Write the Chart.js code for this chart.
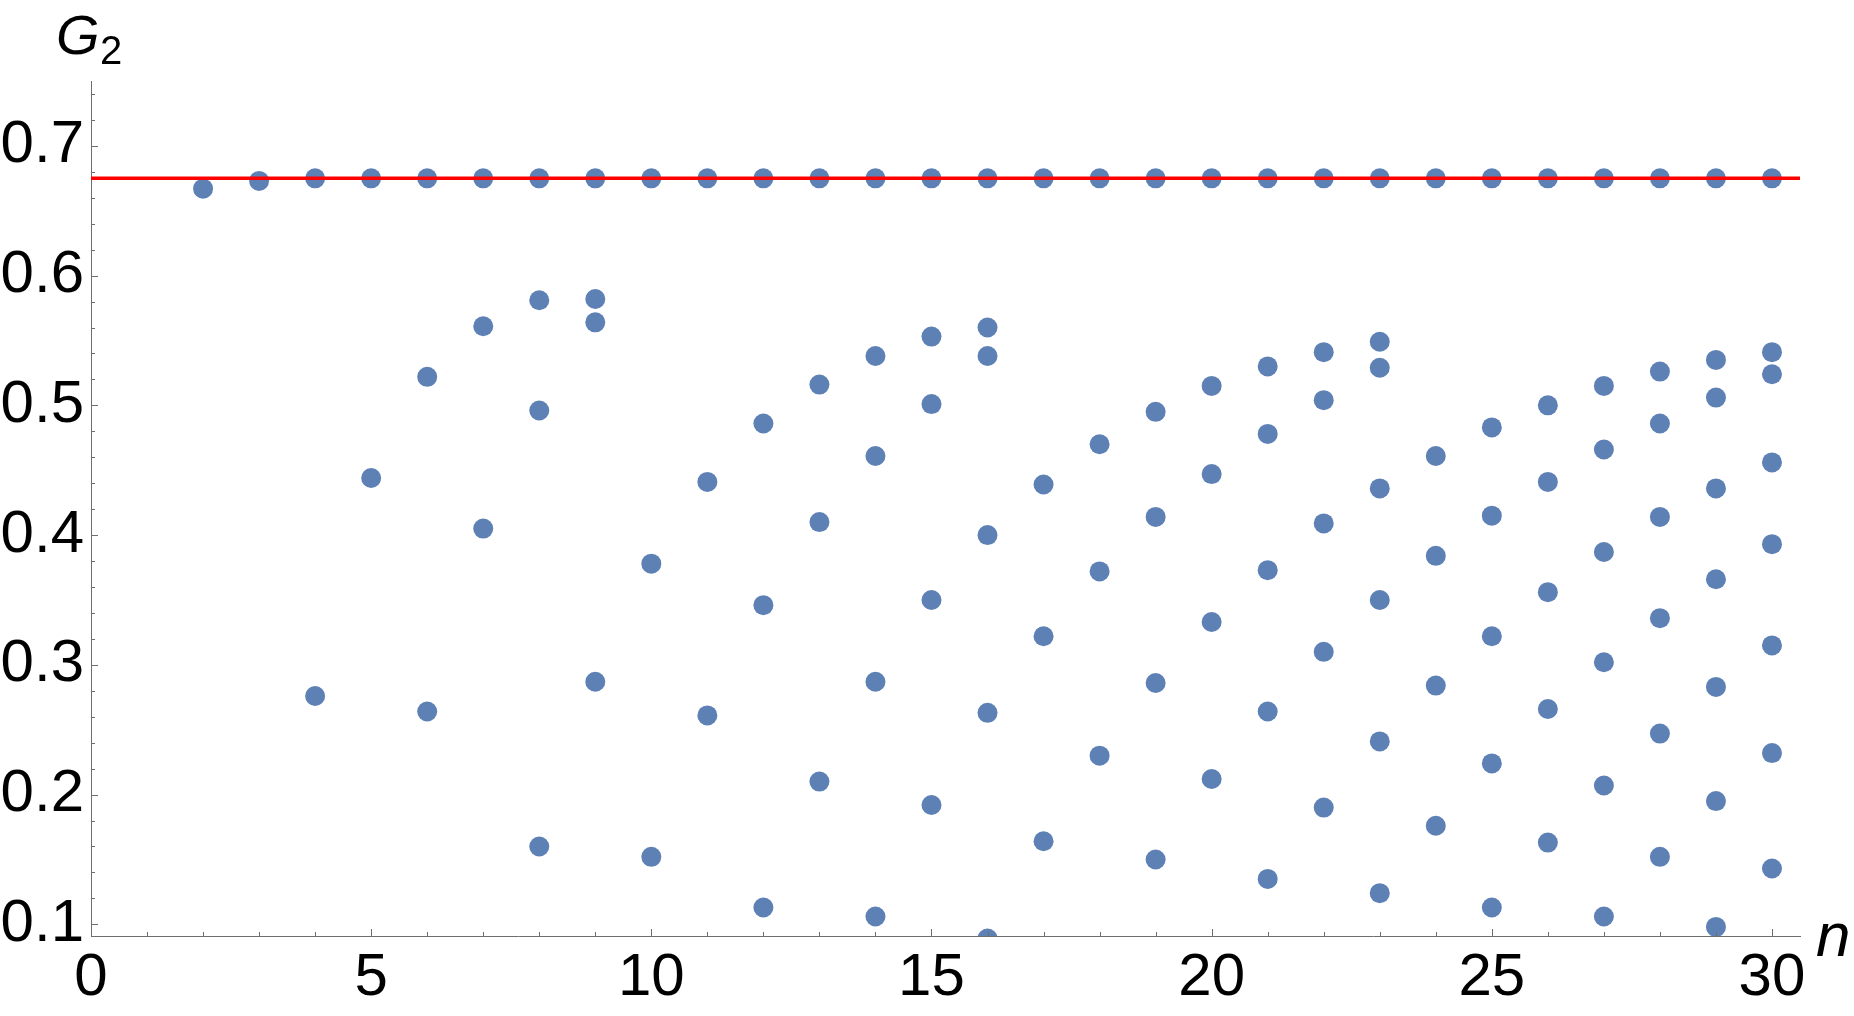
<!DOCTYPE html>
<html lang="en">
<head>
  <meta charset="UTF-8">
  <title>G2 versus n</title>
  <script src="https://cdn.jsdelivr.net/npm/chart.js@4.4.0/dist/chart.umd.min.js"></script>
  <style>
    * { box-sizing: border-box; margin: 0; padding: 0; }
    body { background: #fff; }
    .wrap { position: relative; width: 1854px; height: 1016px; }
  </style>
</head>
<body>
  <div class="wrap"><canvas id="g2Chart"></canvas></div>

  <script>
    // upper branch, sits on the limit line
    const nTop = [2, 3, 4, 5, 6, 7, 8, 9, 10, 11, 12, 13, 14, 15, 16, 17, 18, 19, 20, 21, 22, 23, 24, 25, 26, 27, 28, 29, 30];
    const g2Top = [0.667, 0.673, 0.675, 0.675, 0.675, 0.675, 0.675, 0.675, 0.675, 0.675, 0.675, 0.675, 0.675, 0.675, 0.675,
                   0.675, 0.675, 0.675, 0.675, 0.675, 0.675, 0.675, 0.675, 0.675, 0.675, 0.675, 0.675, 0.675, 0.675];

    // the scattered lower points, n and G2 side by side
    const nLower = [
      4,
      5,
      6, 6,
      7, 7,
      8, 8, 8,
      9, 9, 9,
      10, 10,
      11, 11,
      12, 12, 12,
      13, 13, 13,
      14, 14, 14, 14,
      15, 15, 15, 15,
      16, 16, 16, 16, 16,
      17, 17, 17,
      18, 18, 18,
      19, 19, 19, 19,
      20, 20, 20, 20,
      21, 21, 21, 21, 21,
      22, 22, 22, 22, 22,
      23, 23, 23, 23, 23, 23,
      24, 24, 24, 24,
      25, 25, 25, 25, 25,
      26, 26, 26, 26, 26,
      27, 27, 27, 27, 27, 27,
      28, 28, 28, 28, 28, 28,
      29, 29, 29, 29, 29, 29, 29,
      30, 30, 30, 30, 30, 30, 30
    ];
    const g2Lower = [
      0.276,
      0.444,
      0.522, 0.264,
      0.561, 0.405,
      0.581, 0.496, 0.160,
      0.582, 0.564, 0.287,
      0.378, 0.152,
      0.441, 0.261,
      0.486, 0.346, 0.113,
      0.516, 0.410, 0.210,
      0.538, 0.461, 0.287, 0.106,
      0.553, 0.501, 0.350, 0.192,
      0.560, 0.538, 0.400, 0.263, 0.089,
      0.439, 0.322, 0.164,
      0.470, 0.372, 0.230,
      0.495, 0.414, 0.286, 0.150,
      0.515, 0.447, 0.333, 0.212,
      0.530, 0.478, 0.373, 0.264, 0.135,
      0.541, 0.504, 0.409, 0.310, 0.190,
      0.549, 0.529, 0.436, 0.350, 0.241, 0.124,
      0.461, 0.384, 0.284, 0.176,
      0.483, 0.415, 0.322, 0.224, 0.113,
      0.500, 0.441, 0.356, 0.266, 0.163,
      0.515, 0.466, 0.387, 0.302, 0.207, 0.106,
      0.526, 0.486, 0.414, 0.336, 0.247, 0.152,
      0.535, 0.506, 0.436, 0.366, 0.283, 0.195, 0.098,
      0.541, 0.524, 0.456, 0.393, 0.315, 0.232, 0.143
    ];

    const limitG2 = 0.675;
    const xTicks = [0, 5, 10, 15, 20, 25, 30];
    const yTicks = [0.1, 0.2, 0.3, 0.4, 0.5, 0.6, 0.7];
    const xRange = [0, 30.5];
    const yRange = [0.091, 0.75];

    const dotColor = '#5e81b5';
    const axisColor = '#6e6e6e';
    const fontFamily = "'Liberation Sans', Arial, sans-serif";

    const points = nTop.map((n, i) => ({ x: n, y: g2Top[i] }))
      .concat(nLower.map((n, i) => ({ x: n, y: g2Lower[i] })));

    // Mathematica-style inward ticks plus the G2 and n labels
    const frameDecor = {
      id: 'frameDecor',
      afterDraw(chart) {
        const { ctx, chartArea: area, scales: { x, y } } = chart;
        ctx.save();
        ctx.strokeStyle = axisColor;
        ctx.lineWidth = 1;
        ctx.beginPath();
        for (let v = 1; v <= 30; v++) {
          const px = Math.round(x.getPixelForValue(v)) + 0.5;
          const len = v % 5 === 0 ? 7 : 4;
          ctx.moveTo(px, area.bottom);
          ctx.lineTo(px, area.bottom - len);
        }
        for (let k = 5; k <= 37; k++) {
          const v = k / 50;
          const py = Math.round(y.getPixelForValue(v)) + 0.5;
          const len = k % 5 === 0 ? 7 : 4;
          ctx.moveTo(area.left, py);
          ctx.lineTo(area.left + len, py);
        }
        ctx.stroke();

        ctx.fillStyle = '#000';
        ctx.textBaseline = 'alphabetic';
        ctx.textAlign = 'left';
        ctx.font = 'italic 56px ' + fontFamily;
        ctx.fillText('G', area.left - 35, 54);
        ctx.font = '40px ' + fontFamily;
        ctx.fillText('2', area.left + 9, 64);
        ctx.font = 'italic 62px ' + fontFamily;
        ctx.fillText('n', area.right + 16, 956);
        ctx.restore();
      }
    };

    new Chart(document.getElementById('g2Chart'), {
      type: 'scatter',
      data: {
        datasets: [
          {
            type: 'line',
            label: 'limit',
            data: [{ x: xRange[0], y: limitG2 }, { x: xRange[1], y: limitG2 }],
            borderColor: '#ff0000',
            borderWidth: 3.5,
            pointRadius: 0,
            clip: 0
          },
          {
            label: 'G2',
            data: points,
            backgroundColor: dotColor,
            borderWidth: 0,
            pointRadius: 10,
            pointHoverRadius: 10,
            clip: 0
          }
        ]
      },
      options: {
        responsive: true,
        maintainAspectRatio: false,
        animation: false,
        layout: { padding: { top: 81, right: 54, left: 0, bottom: 0 } },
        plugins: { legend: { display: false }, tooltip: { enabled: false } },
        scales: {
          x: {
            type: 'linear',
            min: xRange[0],
            max: xRange[1],
            afterBuildTicks: s => { s.ticks = xTicks.map(v => ({ value: v })); },
            afterFit: s => { s.height = 80; },
            grid: { display: false, drawTicks: false },
            border: { display: true, color: axisColor, width: 1 },
            ticks: {
              color: '#000',
              padding: 6,
              maxRotation: 0,
              autoSkip: false,
              font: { family: fontFamily, size: 60 },
              callback: v => String(v)
            }
          },
          y: {
            type: 'linear',
            min: yRange[0],
            max: yRange[1],
            afterBuildTicks: s => { s.ticks = yTicks.map(v => ({ value: v })); },
            afterFit: s => { s.width = 91; },
            grid: { display: false, drawTicks: false },
            border: { display: true, color: axisColor, width: 1 },
            ticks: {
              color: '#000',
              padding: 7,
              autoSkip: false,
              font: { family: fontFamily, size: 60 },
              callback: v => v.toFixed(1)
            }
          }
        }
      },
      plugins: [frameDecor]
    });
  </script>
</body>
</html>
